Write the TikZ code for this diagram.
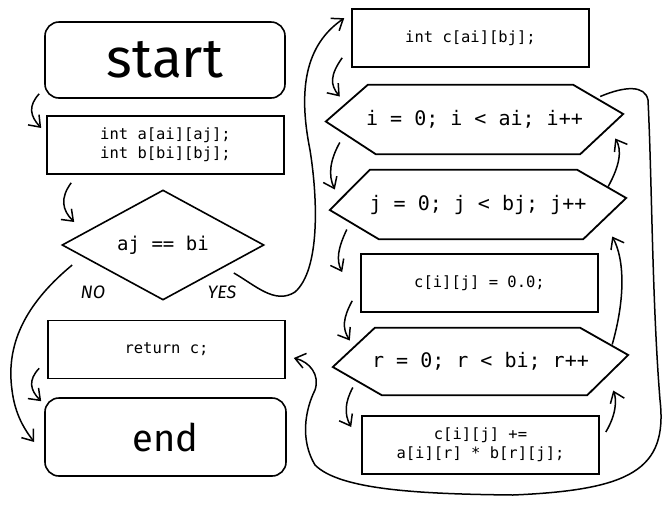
\documentclass[tikz,border=0pt]{standalone}
\usepackage{fontspec}
\setmainfont{Fira Sans}
\setmonofont{DejaVu Sans Mono}
\usetikzlibrary{arrows.meta,calc,shapes.geometric}

\tikzset{
  codebox/.style={draw, rectangle, line width=1.6pt, inner sep=0pt, align=center,
    minimum width=237, minimum height=58, font=\ttfamily\fontsize{15.5}{19}\selectfont},
  termbox/.style={draw, rectangle, rounded corners=14pt, line width=1.6pt, inner sep=0pt},
  loopbox/.style={rectangle, inner sep=0pt, font=\ttfamily\fontsize{20}{22}\selectfont},
  hexline/.style={line width=1.8pt, line join=miter},
  flow/.style={line width=1.5pt, -{Straight Barb[length=10pt,width=15pt]}},
  tag/.style={font=\itshape\fontsize{18}{18}\selectfont}
}

\begin{document}
\begin{tikzpicture}[x=1pt,y=1pt,yscale=-1,xscale=1]
\path[use as bounding box, fill=white] (0,0) rectangle (672,507);

%Shape: Rounded Rect
\node[termbox, minimum width=240, minimum height=76, font=\fontsize{55}{55}\selectfont] (start) at (165,60) {start};
%Shape: Rectangle
\node[codebox] (decl) at (165.5,145) {int a[ai][aj];\\int b[bi][bj];};
%Shape: Diamond
\node[draw, diamond, line width=1.6pt, inner sep=0pt, aspect=1.84, minimum width=202, minimum height=110,
  font=\ttfamily\fontsize{19}{20}\selectfont] (cond) at (163,245) {aj == bi};
%Shape: Rectangle
\node[codebox] (ret) at (166.5,349.5) {return c;};
%Shape: Rounded Rect
\node[termbox, minimum width=241, minimum height=78, font=\fontsize{38}{38}\selectfont] (end) at (165.5,437) {end};

%Shape: Rectangle
\node[codebox] (cdecl) at (470.5,38) {int c[ai][bj];};
%Shape: Hexagon
\node[loopbox, minimum width=297, minimum height=69] (iloop) at (474.5,119.5) {i = 0; i < ai; i++};
\draw[hexline] ($(iloop.west)+(0,2)$) -- ($(iloop.north west)+(42,0)$) -- ($(iloop.north east)+(-50,0)$)
  -- ($(iloop.east)+(0,-5.5)$) -- ($(iloop.south east)+(-43,0)$) -- ($(iloop.south west)+(50,0)$) -- cycle;
%Shape: Hexagon
\node[loopbox, minimum width=296, minimum height=69] (jloop) at (478,204.5) {j = 0; j < bj; j++};
\draw[hexline] ($(jloop.west)+(0,5.5)$) -- ($(jloop.north west)+(40,0)$) -- ($(jloop.north east)+(-49,0)$)
  -- ($(jloop.east)+(0,-6.5)$) -- ($(jloop.south east)+(-43,0)$) -- ($(jloop.south west)+(49,0)$) -- cycle;
%Shape: Rectangle
\node[codebox] (cinit) at (479.5,283) {c[i][j] = 0.0;};
%Shape: Hexagon
\node[loopbox, minimum width=295, minimum height=67] (rloop) at (480.5,361.5) {r = 0; r < bi; r++};
\draw[hexline] ($(rloop.west)+(0,5.5)$) -- ($(rloop.north west)+(42,0)$) -- ($(rloop.north east)+(-48,0)$)
  -- ($(rloop.east)+(0,-6.5)$) -- ($(rloop.south east)+(-41,0)$) -- ($(rloop.south west)+(49,0)$) -- cycle;
%Shape: Rectangle
\node[codebox] (cacc) at (480.5,445) {c[i][j] +=\\a[i][r] * b[r][j];};

% Text Node
\node[tag] (no) at (93,292) {NO};
% Text Node
\node[tag] (yes) at (222,292) {YES};

%Curve Lines
\draw[flow] ($(start.south west)+(-5,-5)$) .. controls (28,106) and (30,116) .. ($(decl.west)+(-5,-17)$);
%Curve Lines
\draw[flow] ($(decl.south west)+(25,8)$) .. controls (60,198) and (62,210) .. ($(cond.west)+(13,-23)$);
%Curve Lines
\draw[flow] ($(cond.east)+(-31,28)$) .. controls (255,285) and (275,305) .. (295,292)
  .. controls (320,270) and (318,200) .. (310,150) .. controls (298,90) and (305,45) .. ($(cdecl.north west)+(-7,10)$);
%Curve Lines
\draw[flow] ($(cond.west)+(11,20)$) .. controls (30,300) and (5,340) .. (12,390) .. controls (15,415) and (25,430) .. ($(end.west)+(-10,5)$);
%Curve Lines
\draw[flow] ($(ret.south west)+(-8,-11)$) .. controls (28,380) and (30,390) .. ($(end.north west)+(-3,4)$);

%Curve Lines
\draw[flow] ($(cdecl.south west)+(-9,-10)$) .. controls (330,75) and (330,85) .. ($(iloop.west)+(14,-23)$);
%Curve Lines
\draw[flow] ($(iloop.west)+(14,23)$) .. controls (330,160) and (328,175) .. ($(jloop.west)+(5,-15)$);
%Curve Lines
\draw[flow] ($(jloop.west)+(17,25)$) .. controls (338,248) and (336,260) .. ($(cinit.west)+(-18,-11)$);
%Curve Lines
\draw[flow] ($(cinit.south west)+(-8,-12)$) .. controls (343,318) and (342,328) .. ($(rloop.west)+(17,-21)$);
%Curve Lines
\draw[flow] ($(rloop.west)+(20,26)$) .. controls (345,402) and (344,414) .. ($(cacc.west)+(-10,-18)$);

%Curve Lines
\draw[flow] ($(cacc.east)+(6,-13)$) .. controls (616,415) and (617,400) .. ($(rloop.east)+(-15,29)$);
%Curve Lines
\draw[flow] ($(rloop.east)+(-16,-17)$) .. controls (625,300) and (625,260) .. ($(jloop.east)+(-14,32)$);
%Curve Lines
\draw[flow] ($(jloop.east)+(-18,-18)$) .. controls (620,165) and (622,150) .. ($(iloop.east)+(-8,19)$);

%Curve Lines
\draw[flow] ($(iloop.east)+(-23,-23)$) .. controls (625,86) and (645,85) .. (648,100)
  .. controls (652,180) and (652,300) .. (660,400) .. controls (668,470) and (630,490) .. (513,495)
  .. controls (420,494) and (340,490) .. (315,465) .. controls (300,440) and (305,410) .. (315,390)
  .. controls (320,375) and (310,362) .. ($(ret.east)+(8,8.5)$);

\end{tikzpicture}
\end{document}
